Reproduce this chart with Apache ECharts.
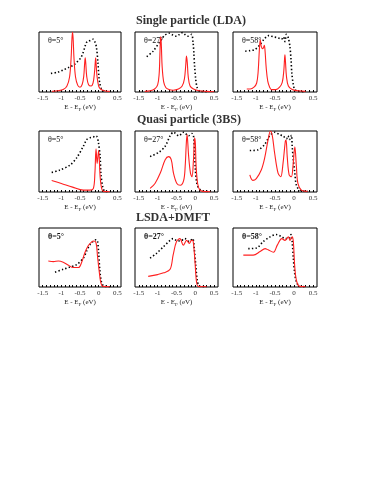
<!DOCTYPE html>
<html><head><meta charset="utf-8">
<script src="https://cdn.jsdelivr.net/npm/echarts@6/dist/echarts.min.js"></script>
<style>html,body{margin:0;padding:0;background:#fff}#c{width:374px;height:484px}</style>
</head><body><div id="c"></div>
<script>
// ---- tick labels & texts ----
const xTickLabels = [-1.5, -1, -0.5, 0, 0.5];
const xMinorTicks = [-1.5,-1.4,-1.3,-1.2,-1.1,-1.0,-0.9,-0.8,-0.7,-0.6,-0.5,-0.4,-0.3,-0.2,-0.1,0,0.1,0.2,0.3,0.4,0.5];
const rowTitles = ['Single particle (LDA)', 'Quasi particle (3BS)', 'LSDA+DMFT'];
const angleLabels = ['θ=5°', 'θ=27°', 'θ=58°'];

// ---- Single particle (LDA) ----
const lda5Red = [[-1.25,0.01],[-1.1,0.02],[-0.95,0.04],[-0.85,0.1],[-0.78,0.25],[-0.74,0.55],[-0.715,0.9],[-0.70,1.0],[-0.685,0.9],[-0.66,0.55],[-0.62,0.25],[-0.56,0.11],[-0.5,0.08],[-0.44,0.13],[-0.4,0.26],[-0.375,0.48],[-0.36,0.57],[-0.345,0.48],[-0.32,0.26],[-0.27,0.12],[-0.2,0.1],[-0.15,0.15],[-0.115,0.3],[-0.09,0.5],[-0.08,0.57],[-0.07,0.5],[-0.045,0.27],[0,0.1],[0.05,0.05],[0.15,0.02],[0.3,0.01]];
const lda5Black = [[-1.28,0.31],[-1.1,0.33],[-0.94,0.37],[-0.8,0.41],[-0.67,0.45],[-0.58,0.5],[-0.49,0.56],[-0.42,0.65],[-0.36,0.77],[-0.31,0.84],[-0.22,0.86],[-0.15,0.88],[-0.11,0.85],[-0.06,0.75],[-0.02,0.5],[0.01,0.23],[0.04,0.12],[0.07,0.06],[0.14,0.02],[0.2,0.005]];
const lda27Red = [[-1.34,0.01],[-1.2,0.02],[-1.08,0.05],[-1.0,0.12],[-0.96,0.3],[-0.94,0.62],[-0.925,0.9],[-0.915,0.92],[-0.9,0.75],[-0.88,0.42],[-0.84,0.17],[-0.78,0.07],[-0.7,0.04],[-0.59,0.03],[-0.45,0.05],[-0.35,0.1],[-0.29,0.22],[-0.255,0.45],[-0.235,0.6],[-0.215,0.5],[-0.19,0.26],[-0.14,0.1],[-0.05,0.05],[0.1,0.02],[0.3,0.01],[0.5,0.005]];
const lda27Black = [[-1.29,0.59],[-1.12,0.68],[-0.94,0.84],[-0.82,0.94],[-0.69,0.98],[-0.6,0.95],[-0.5,0.93],[-0.42,0.96],[-0.34,0.99],[-0.26,0.95],[-0.19,0.93],[-0.1,0.96],[-0.06,0.82],[-0.04,0.65],[-0.02,0.43],[0.01,0.21],[0.05,0.07],[0.12,0.01],[0.3,0.005]];
const lda58Red = [[-1.24,0.05],[-1.15,0.05],[-1.05,0.08],[-0.98,0.15],[-0.94,0.35],[-0.91,0.7],[-0.885,0.87],[-0.86,0.76],[-0.82,0.72],[-0.78,0.78],[-0.76,0.68],[-0.73,0.4],[-0.69,0.18],[-0.64,0.08],[-0.59,0.04],[-0.48,0.04],[-0.38,0.08],[-0.31,0.16],[-0.27,0.35],[-0.25,0.55],[-0.24,0.62],[-0.225,0.5],[-0.2,0.26],[-0.15,0.1],[-0.05,0.04],[0.1,0.02],[0.3,0.01]];
const lda58Black = [[-1.28,0.68],[-1.15,0.69],[-1.02,0.71],[-0.89,0.79],[-0.8,0.87],[-0.67,0.94],[-0.54,0.92],[-0.41,0.9],[-0.33,0.88],[-0.28,0.92],[-0.24,0.84],[-0.2,0.96],[-0.15,0.9],[-0.11,0.76],[-0.08,0.54],[-0.06,0.32],[-0.02,0.12],[0.02,0.04],[0.11,0.01],[0.25,0.005]];

// ---- Quasi particle (3BS) ----
const qp5Red = [[-1.26,0.19],[-1.0,0.14],[-0.7,0.08],[-0.41,0.03],[-0.23,0.03],[-0.14,0.06],[-0.1,0.31],[-0.07,0.71],[-0.04,0.47],[0.0,0.68],[0.04,0.25],[0.08,0.06],[0.13,0.01],[0.3,0.005]];
const qp5Black = [[-1.26,0.32],[-1.04,0.36],[-0.77,0.44],[-0.59,0.56],[-0.41,0.75],[-0.32,0.86],[-0.23,0.89],[-0.14,0.9],[-0.1,0.92],[-0.05,0.91],[-0.01,0.83],[0.04,0.58],[0.06,0.31],[0.11,0.08],[0.17,0.01],[0.3,0.005]];
const qp27Red = [[-1.2,0.06],[-1.07,0.14],[-0.93,0.31],[-0.8,0.53],[-0.71,0.58],[-0.64,0.53],[-0.58,0.31],[-0.49,0.14],[-0.4,0.11],[-0.31,0.19],[-0.27,0.42],[-0.24,0.8],[-0.22,0.94],[-0.2,0.8],[-0.18,0.6],[-0.13,0.31],[-0.09,0.25],[-0.05,0.53],[-0.02,0.89],[0.0,0.8],[0.02,0.42],[0.06,0.14],[0.11,0.04],[0.2,0.01],[0.4,0.005]];
const qp27Black = [[-1.2,0.58],[-0.97,0.65],[-0.8,0.75],[-0.67,0.92],[-0.58,0.98],[-0.44,0.92],[-0.31,0.98],[-0.18,0.92],[-0.09,0.96],[-0.05,0.92],[-0.02,0.64],[0.0,0.36],[0.04,0.14],[0.09,0.06],[0.17,0.02],[0.35,0.01]];
const qp58Red = [[-1.16,0.28],[-1.08,0.19],[-0.99,0.22],[-0.86,0.36],[-0.77,0.56],[-0.68,0.86],[-0.62,1.0],[-0.57,0.92],[-0.51,0.64],[-0.42,0.31],[-0.35,0.25],[-0.29,0.47],[-0.23,0.83],[-0.21,0.85],[-0.18,0.58],[-0.13,0.28],[-0.07,0.25],[-0.03,0.42],[0.02,0.74],[0.06,0.42],[0.1,0.14],[0.19,0.03],[0.35,0.01]];
const qp58Black = [[-1.16,0.68],[-0.95,0.69],[-0.77,0.78],[-0.64,0.92],[-0.51,0.98],[-0.38,0.94],[-0.29,0.92],[-0.2,0.87],[-0.16,0.92],[-0.12,0.86],[-0.07,0.93],[-0.05,0.75],[-0.02,0.53],[0.02,0.31],[0.06,0.11],[0.15,0.03],[0.35,0.01]];

// ---- LSDA+DMFT ----
const dm5Red = [[-1.35,0.44],[-1.21,0.43],[-1.08,0.44],[-0.95,0.42],[-0.81,0.37],[-0.68,0.33],[-0.54,0.33],[-0.46,0.41],[-0.37,0.58],[-0.28,0.7],[-0.19,0.76],[-0.13,0.78],[-0.07,0.75],[-0.03,0.52],[0.02,0.24],[0.06,0.07],[0.11,0.01],[0.3,0.005]];
const dm5Black = [[-1.17,0.25],[-0.95,0.3],[-0.77,0.34],[-0.59,0.38],[-0.41,0.49],[-0.32,0.61],[-0.23,0.72],[-0.14,0.78],[-0.07,0.8],[-0.03,0.78],[0.0,0.58],[0.03,0.3],[0.07,0.1],[0.13,0.02],[0.3,0.005]];
const dm27Red = [[-1.25,0.18],[-1.0,0.21],[-0.84,0.24],[-0.67,0.3],[-0.59,0.54],[-0.5,0.77],[-0.41,0.82],[-0.32,0.71],[-0.23,0.79],[-0.16,0.74],[-0.1,0.79],[-0.06,0.78],[-0.01,0.43],[0.03,0.09],[0.08,0.01],[0.3,0.005]];
const dm27Black = [[-1.2,0.49],[-1.03,0.57],[-0.85,0.68],[-0.67,0.79],[-0.59,0.82],[-0.5,0.79],[-0.4,0.78],[-0.28,0.82],[-0.16,0.77],[-0.07,0.82],[-0.03,0.65],[0.01,0.37],[0.05,0.12],[0.1,0.02],[0.3,0.005]];
const dm58Red = [[-1.33,0.54],[-1.07,0.54],[-0.89,0.6],[-0.76,0.65],[-0.68,0.63],[-0.54,0.59],[-0.44,0.71],[-0.32,0.82],[-0.24,0.79],[-0.15,0.85],[-0.11,0.79],[-0.05,0.85],[-0.02,0.77],[0.02,0.32],[0.07,0.09],[0.15,0.01],[0.3,0.005]];
const dm58Black = [[-1.2,0.65],[-0.98,0.66],[-0.81,0.77],[-0.63,0.85],[-0.47,0.89],[-0.32,0.85],[-0.24,0.82],[-0.13,0.82],[-0.08,0.89],[-0.05,0.77],[-0.02,0.49],[0.02,0.21],[0.07,0.07],[0.15,0.01],[0.3,0.005]];

const panels = [
  [lda5Red, lda5Black], [lda27Red, lda27Black], [lda58Red, lda58Black],
  [qp5Red, qp5Black], [qp27Red, qp27Black], [qp58Red, qp58Black],
  [dm5Red, dm5Black], [dm27Red, dm27Black], [dm58Red, dm58Black]
];

// ---- layout ----
const colLeft = [39, 135, 233], colWidth = [82, 83, 84];
const rowTop = [32, 131, 228], rowHeight = [60, 61, 59];
const titleY = [21, 120, 218], titleX = [191, 189, 173];

const grids = [], xAxes = [], yAxes = [], series = [], graphics = [];
const serif = '"Liberation Serif", "DejaVu Serif", serif';
for (let r = 0; r < 3; r++) {
  graphics.push({type: 'text', x: titleX[r], y: titleY[r], style: {
    text: rowTitles[r], font: 'bold 12px ' + serif, fill: '#333', textAlign: 'center', textVerticalAlign: 'middle'}});
  for (let c = 0; c < 3; c++) {
    const i = r * 3 + c;
    grids.push({left: colLeft[c], top: rowTop[r], width: colWidth[c], height: rowHeight[r],
      show: true, borderColor: '#000', borderWidth: 1, backgroundColor: 'transparent'});
    xAxes.push({type: 'value', gridIndex: i, min: -1.6, max: 0.6,
      axisLine: {show: false}, splitLine: {show: false},
      axisTick: {show: true, inside: true, length: 2, customValues: xMinorTicks, lineStyle: {color: '#000', width: 1}},
      axisLabel: {show: true, customValues: xTickLabels, fontSize: 7, fontFamily: serif, color: '#333', margin: 3,
        formatter: v => String(v)},
      name: '{a|E - E}{s|F}{a| (eV)}', nameLocation: 'middle', nameGap: 11,
      nameTextStyle: {rich: {a: {fontSize: 7, fontFamily: serif, color: '#222'},
                             s: {fontSize: 5, fontFamily: serif, color: '#222', padding: [4, 0, 0, 0]}}}});
    yAxes.push({type: 'value', gridIndex: i, min: 0, max: 1, show: false});
    series.push({type: 'line', xAxisIndex: i, yAxisIndex: i, data: panels[i][1], showSymbol: false, smooth: 0.3,
      lineStyle: {color: '#000', width: 1.6, type: [1.4, 2.2]}, z: 2, clip: true});
    series.push({type: 'line', xAxisIndex: i, yAxisIndex: i, data: panels[i][0], showSymbol: false, smooth: 0.35,
      lineStyle: {color: '#ff2020', width: 1.1}, z: 3, clip: true});
    graphics.push({type: 'text', x: colLeft[c] + 9, y: rowTop[r] + 9, style: {
      text: angleLabels[c], font: (r === 2 ? 'bold ' : '') + '8px ' + serif, fill: '#111', textVerticalAlign: 'middle'}});
  }
}

const chart = echarts.init(document.getElementById('c'), null, {renderer: 'canvas'});
chart.setOption({
  animation: false,
  backgroundColor: '#fff',
  grid: grids, xAxis: xAxes, yAxis: yAxes, series: series, graphic: graphics
});
</script>
</body></html>
